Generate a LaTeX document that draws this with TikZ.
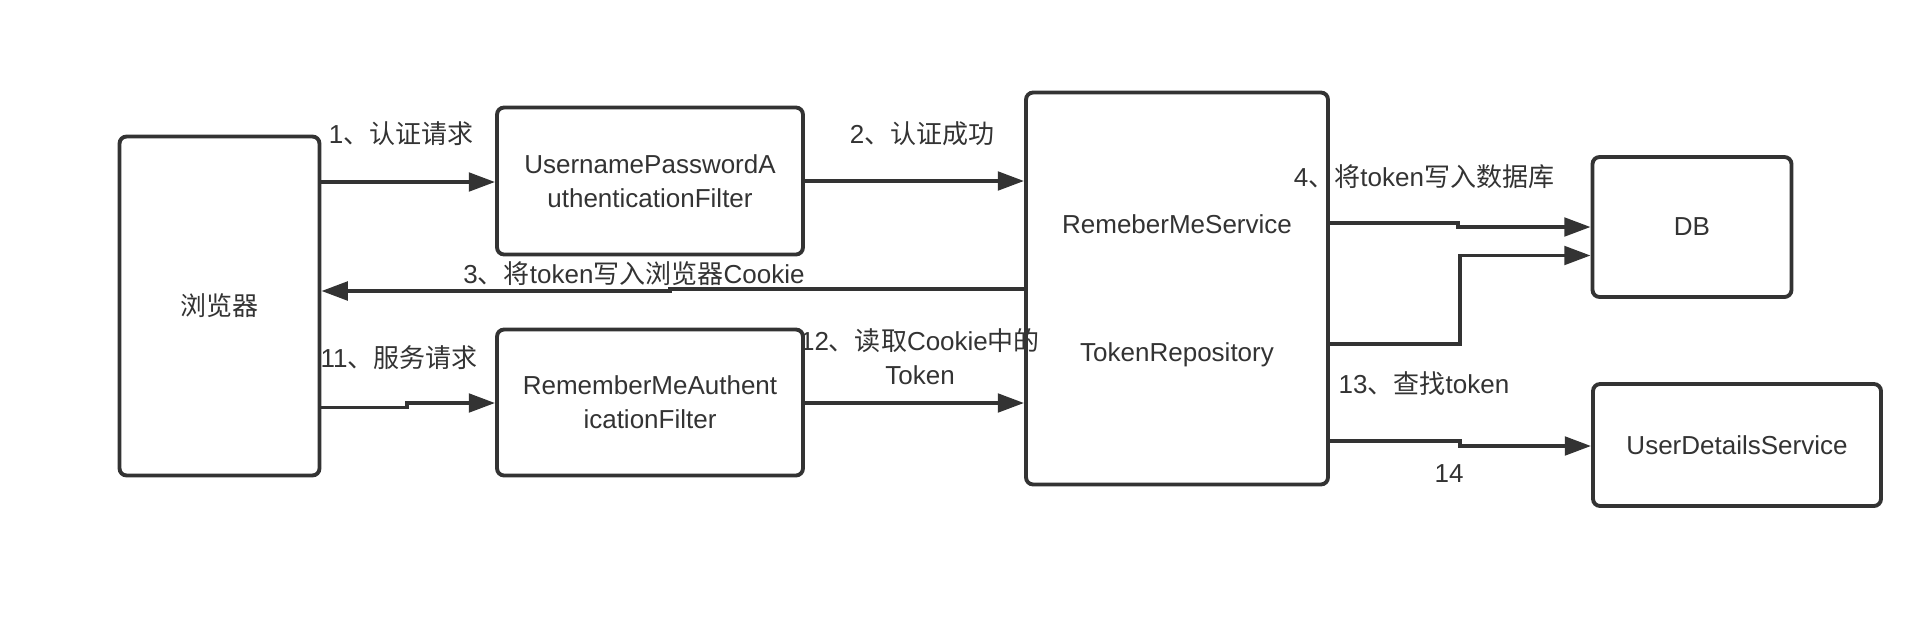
\documentclass[tikz,border=0pt]{standalone}
\usepackage{fontspec}
\setmainfont{Liberation Sans}
\newfontfamily\zhfont{Noto Sans CJK SC}
\newcommand{\zh}[1]{{\zhfont #1}}
\usetikzlibrary{arrows.meta}
\definecolor{ink}{HTML}{333333}

\begin{document}
\begin{tikzpicture}[x=0.02cm, y=-0.02cm,
    box/.style={draw=ink, line width=2.2pt, rounded corners=4pt, inner sep=0pt},
    lbl/.style={text=ink, font=\fontsize{14.8}{19.4}\selectfont, align=center},
    flow/.style={draw=ink, line width=2.2pt, -{Triangle[length=15pt, width=10.5pt]}}]
    \fill[white] (0,0) rectangle (1916,636);
    \useasboundingbox (0,0) rectangle (1916,636);

    % Boxes
    \node[box, lbl, minimum width=4cm, minimum height=6.78cm] (browser) at (219.5,306) {\zh{浏览器}};
    \node[box, lbl, minimum width=6.12cm, minimum height=2.94cm] (upf) at (650,181) {UsernamePasswordA\\uthenticationFilter};
    \node[box, lbl, minimum width=6.12cm, minimum height=2.92cm] (rmf) at (650,402.5) {RememberMeAuthent\\icationFilter};
    \node[box, minimum width=6.04cm, minimum height=7.84cm] (svc) at (1177,288.5) {};
    \node[lbl] (svcname) at (1177,224) {RemeberMeService};
    \node[lbl] (repo) at (1177,355) {TokenRepository};
    \node[box, lbl, minimum width=3.98cm, minimum height=2.8cm] (db) at (1692,227) {DB};
    \node[box, lbl, minimum width=5.76cm, minimum height=2.44cm] (uds) at (1737,445) {UserDetailsService};

    % Arrows
    \draw[flow] (browser.east |- 0,182) -- (upf.west |- 0,182);
    \draw[flow] (upf.east |- 0,181) -- (svc.west |- 0,181);
    \draw[flow] (svc.west |- 0,289) -- (670,289) |- (browser.east |- 0,291);
    \draw[flow] (browser.east |- 0,407.5) -- (407,407.5) |- (rmf.west |- 0,403);
    \draw[flow] (rmf.east |- 0,403) -- (svc.west |- 0,403);
    \draw[flow] (svc.east |- 0,223) -- (1458,223) |- (db.west |- 0,227);
    \draw[flow] (svc.east |- 0,344) -- (1460,344) |- (db.west |- 0,255.5);
    \draw[flow] (svc.east |- 0,441) -- (1460,441) |- (uds.west |- 0,446);

    % Labels
    \node[lbl] (l1) at (401,134) {1\zh{、认证请求}};
    \node[lbl] (l2) at (922,134) {2\zh{、认证成功}};
    \node[lbl] (l3) at (634,274) {3\zh{、将}token\zh{写入浏览器}Cookie};
    \node[lbl] (l11) at (399,358) {11\zh{、服务请求}};
    \node[lbl] (l12) at (920,357) {12\zh{、读取}Cookie\zh{中的}\\Token};
    \node[lbl] (l4) at (1424,177) {4\zh{、将}token\zh{写入数据库}};
    \node[lbl] (l13) at (1424,384) {13\zh{、查找}token};
    \node[lbl] (l14) at (1449,474) {14};
\end{tikzpicture}
\end{document}
